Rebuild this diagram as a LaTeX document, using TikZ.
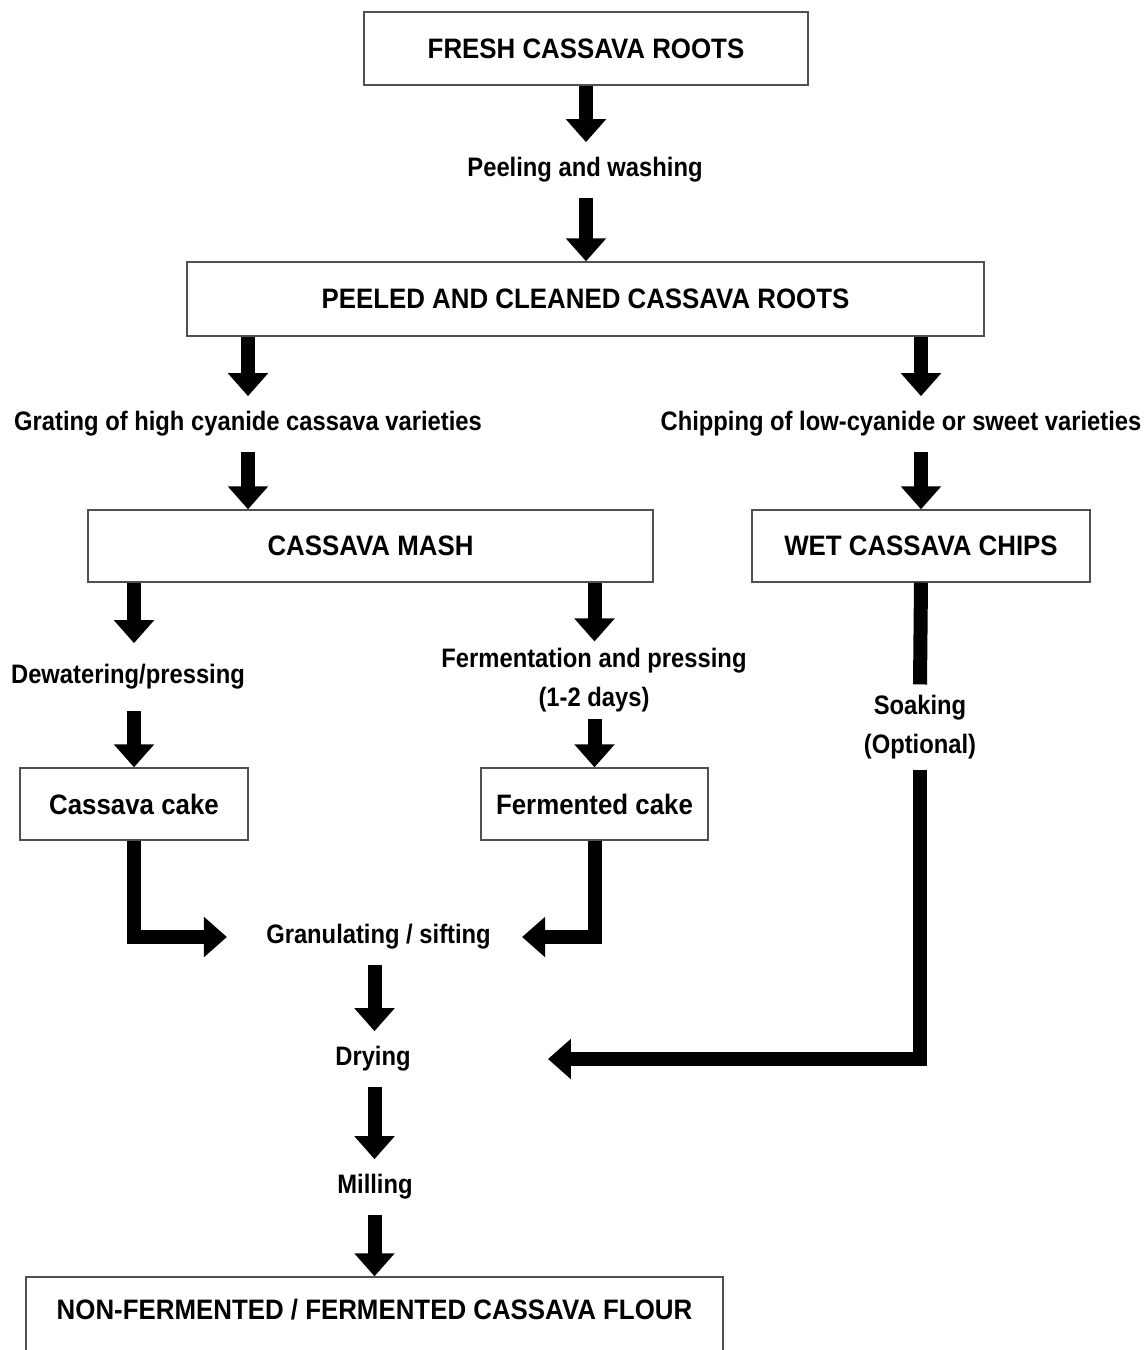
\documentclass[tikz,border=0pt]{standalone}
\usepackage{fontspec}
\setmainfont{Liberation Sans}[FakeStretch=0.89]
\newfontfamily\boxfont{Liberation Sans}[FakeStretch=0.92]
\usetikzlibrary{arrows.meta}
\definecolor{BoxGray}{HTML}{505050}

\begin{document}
\begin{tikzpicture}[x=0.02cm,y=-0.02cm,
    box/.style={draw=BoxGray,line width=0.8pt,inner sep=0pt,minimum height=1.44cm,
      font=\boxfont\fontsize{16}{19}\selectfont\bfseries},
    lbl/.style={inner xsep=0pt,inner ysep=0.3cm,align=center,
      font=\fontsize{15.2}{22.5}\selectfont\bfseries},
    flow/.style={line width=0.28cm,-{Triangle[width=0.78cm,length=0.46cm]}},
    bar/.style={line width=0.28cm}]
  \clip (0,0) rectangle (1145,1350);

  % boxes and step labels
  \node[box,minimum width=8.88cm,minimum height=1.46cm] (fresh) at (586,48.5)
    {FRESH CASSAVA ROOTS};
  \node[lbl] (peel) at (585,170) {Peeling and washing};
  \node[box,minimum width=15.94cm,minimum height=1.48cm] (clean) at (585.5,299)
    {PEELED AND CLEANED CASSAVA ROOTS};
  \node[lbl] (grate) at (248,424) {Grating of high cyanide cassava varieties};
  \node[lbl] (chip) at (901,424) {Chipping of low-cyanide or sweet varieties};
  \node[box,minimum width=11.3cm] (mash) at (370.5,546) {CASSAVA MASH};
  \node[box,minimum width=6.76cm] (chips) at (921,546) {WET CASSAVA CHIPS};
  \node[lbl,inner ysep=0.42cm] (dewater) at (128,677) {Dewatering/pressing};
  \node[lbl,inner ysep=0.12cm] (ferm) at (594,680) {Fermentation and pressing\\(1-2 days)};
  \node[box,minimum width=4.56cm] (cake) at (134,804) {Cassava cake};
  \node[box,minimum width=4.54cm] (fcake) at (594.5,804) {Fermented cake};
  \node[lbl] (gran) at (378.5,937) {Granulating / sifting};
  \node[lbl,inner ysep=0.2cm] (soak) at (920,727) {Soaking\\(Optional)};
  \node[lbl] (dry) at (373,1059) {Drying};
  \node[lbl] (mill) at (375,1187) {Milling};
  \node[box,minimum width=13.94cm,minimum height=1.66cm,text height=0.42cm,
    text depth=0.4cm] (flour) at (374.5,1318.5)
    {NON-FERMENTED / FERMENTED CASSAVA FLOUR};

  % main line
  \draw[flow] (fresh.south) -- (fresh.south |- peel.north);
  \draw[flow] (fresh.south |- peel.south) -- (fresh.south |- clean.north);
  % high cyanide branch
  \draw[flow] (grate.north |- clean.south) -- (grate.north);
  \draw[flow] (grate.south) -- (grate.south |- mash.north);
  \draw[flow] (cake.north |- mash.south) -- (cake.north |- dewater.north);
  \draw[flow] (cake.north |- dewater.south) -- (cake.north);
  \draw[flow] (fcake.north |- mash.south) -- (fcake.north |- ferm.north);
  \draw[flow] (fcake.north |- ferm.south) -- (fcake.north);
  \draw[flow,shorten >=0.78cm] (cake.south) |- (gran.west);
  \draw[flow,shorten >=0.62cm] (fcake.south) |- (gran.east);
  % sweet branch
  \draw[flow] (chips.north |- clean.south) -- (chips.north |- chip.north);
  \draw[flow] (chips.north |- chip.south) -- (chips.north);
  \draw[bar] (chips.south) -- (soak.north);
  \draw[flow,shorten >=2.74cm] (soak.south) |- (dry.east);
  % drying and milling
  \draw[flow] (flour.north |- gran.south) -- (flour.north |- dry.north);
  \draw[flow] (flour.north |- dry.south) -- (flour.north |- mill.north);
  \draw[flow] (flour.north |- mill.south) -- (flour.north);
\end{tikzpicture}
\end{document}
